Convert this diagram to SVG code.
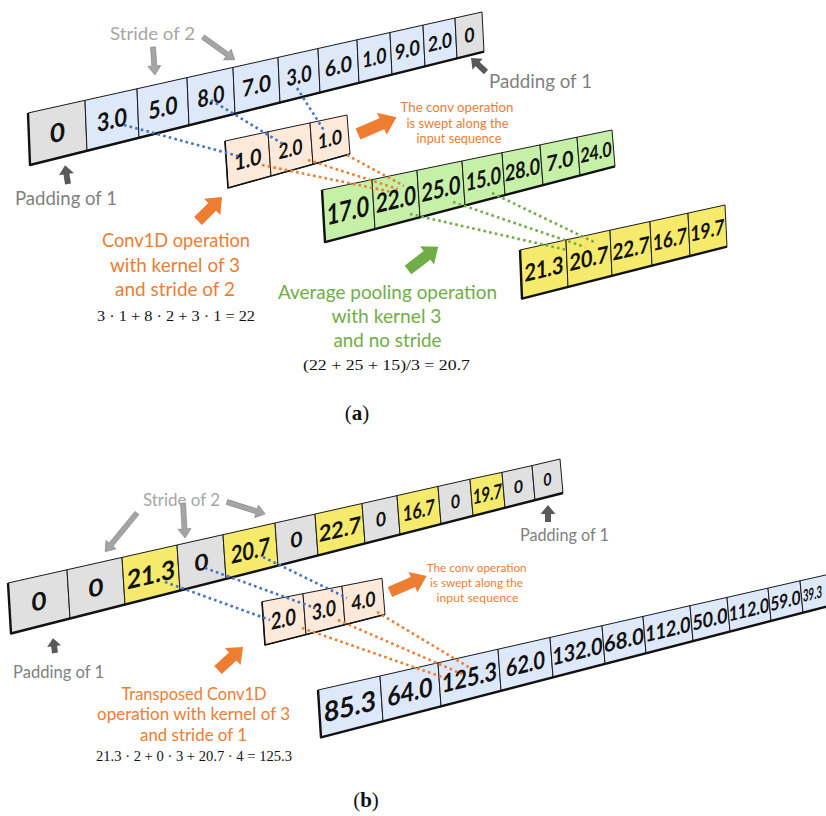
<svg xmlns="http://www.w3.org/2000/svg" xmlns:xlink="http://www.w3.org/1999/xlink" width="826" height="816" viewBox="0 0 826 816">
  <style>
    polygon.cell { stroke: #1a1a1a; stroke-width: 1; stroke-linejoin: round; }
    .gray { fill: #e0e0e0; }
    .blue { fill: #dde8f9; }
    .peach { fill: #fde9d9; }
    .green { fill: #c6efa8; }
    .yellow { fill: #f5ea6b; }
    .edge { fill: none; stroke: #111; stroke-width: 2.4; stroke-linejoin: round; }
    text.v { font-family: Lato, "Liberation Sans", sans-serif; font-weight: bold; fill: #111; text-anchor: middle; }
    text.lbl { font-family: Lato, "Liberation Sans", sans-serif; text-anchor: middle; }
    .stride { fill: #a6a6a6; }
    .pad { fill: #7f7f7f; }
    .orange { fill: #ed7d31; }
    .gtxt { fill: #70ad47; }
    text.math { font-family: "Liberation Serif", "DejaVu Serif", serif; fill: #111; text-anchor: middle; }
    .arr-stride { fill: #a5a5a5; stroke: #808080; stroke-width: 0.6; }
    .arr-pad { fill: #595959; }
    .arr-orange { fill: #ed7d31; }
    .arr-green { fill: #70ad47; }
    .dot { fill: none; stroke-width: 2.6; stroke-dasharray: 2.6 3.2; }
    .dot-blue { stroke: #4472c4; }
    .dot-orange { stroke: #ed7d31; }
    .dot-green { stroke: #70ad47; }
  </style>

  <!-- (a) input sequence with padding -->
  <g id="a-input">
    <g id="a-in-0"><polygon class="cell gray" points="28,113 85,100.3 87,151.2 30,165"/><text class="v" transform="translate(57.5,132.4) skewY(-13.3)" y="9.3" font-size="25.7" textLength="15" lengthAdjust="spacingAndGlyphs">0</text></g>
    <g id="a-in-1"><polygon class="cell blue" points="85,100.3 137,88.75 139,138.2 87,151.2"/><text class="v" transform="translate(112,119.6) skewY(-13.3)" y="9" font-size="25" textLength="30" lengthAdjust="spacingAndGlyphs">3.0</text></g>
    <g id="a-in-2"><polygon class="cell blue" points="137,88.75 187,77.6 189,125.7 139,138.2"/><text class="v" transform="translate(163,107.6) skewY(-13.3)" y="8.8" font-size="24.4" textLength="29" lengthAdjust="spacingAndGlyphs">5.0</text></g>
    <g id="a-in-3"><polygon class="cell blue" points="187,77.6 233,67.4 235,114.1 189,125.7"/><text class="v" transform="translate(211,96.2) skewY(-13.3)" y="8.5" font-size="23.7" textLength="27" lengthAdjust="spacingAndGlyphs">8.0</text></g>
    <g id="a-in-4"><polygon class="cell blue" points="233,67.4 278,57.4 280,102.9 235,114.1"/><text class="v" transform="translate(256.5,85.45) skewY(-13.3)" y="8.3" font-size="23" textLength="29" lengthAdjust="spacingAndGlyphs">7.0</text></g>
    <g id="a-in-5"><polygon class="cell blue" points="278,57.4 318,48.5 320,92.8 280,102.9"/><text class="v" transform="translate(299,75.4) skewY(-13.3)" y="8.1" font-size="22.5" textLength="25" lengthAdjust="spacingAndGlyphs">3.0</text></g>
    <g id="a-in-6"><polygon class="cell blue" points="318,48.5 357,39.8 359,83.1 320,92.8"/><text class="v" transform="translate(338.5,66.05) skewY(-13.3)" y="7.9" font-size="22" textLength="27" lengthAdjust="spacingAndGlyphs">6.0</text></g>
    <g id="a-in-7"><polygon class="cell blue" points="357,39.8 390,32.5 392,74.8 359,83.1"/><text class="v" transform="translate(374.5,57.55) skewY(-13.3)" y="7.7" font-size="21.4" textLength="24" lengthAdjust="spacingAndGlyphs">1.0</text></g>
    <g id="a-in-8"><polygon class="cell blue" points="390,32.5 423,25.1 425,66.5 392,74.8"/><text class="v" transform="translate(407.5,49.7) skewY(-13.3)" y="7.6" font-size="21" textLength="25" lengthAdjust="spacingAndGlyphs">9.0</text></g>
    <g id="a-in-9"><polygon class="cell blue" points="423,25.1 455,18 457,58.5 425,66.5"/><text class="v" transform="translate(440,42) skewY(-13.3)" y="7.4" font-size="20.5" textLength="24" lengthAdjust="spacingAndGlyphs">2.0</text></g>
    <g id="a-in-10"><polygon class="cell gray" points="455,18 482,12 484,51.7 457,58.5"/><text class="v" transform="translate(469.5,35.05) skewY(-13.3)" y="7.2" font-size="20" textLength="10" lengthAdjust="spacingAndGlyphs">0</text></g>
    <polyline class="edge" points="28,113 30,165 484,51.7"/>
  </g>

  <!-- (a) kernel -->
  <g id="a-kernel">
    <g id="a-k-0"><polygon class="cell peach" points="225,141 268,131.8 271,176 228,188"/><text class="v" transform="translate(248,159.2) skewY(-13.8)" y="8.2" font-size="22.8" textLength="27" lengthAdjust="spacingAndGlyphs">1.0</text></g>
    <g id="a-k-1"><polygon class="cell peach" points="268,131.8 310,122.9 313,164.3 271,176"/><text class="v" transform="translate(290.5,148.75) skewY(-13.8)" y="7.7" font-size="21.4" textLength="24" lengthAdjust="spacingAndGlyphs">2.0</text></g>
    <g id="a-k-2"><polygon class="cell peach" points="310,122.9 347,115 350,154 313,164.3"/><text class="v" transform="translate(330,139.05) skewY(-13.8)" y="7.2" font-size="20.1" textLength="24" lengthAdjust="spacingAndGlyphs">1.0</text></g>
    <polyline class="edge" points="225,141 228,188 350,154" style="stroke-width:1.6"/>
  </g>

  <!-- (a) conv output -->
  <g id="a-conv-out">
    <g id="a-c-0"><polygon class="cell green" points="322,190 372,179.65 375,229.1 325,242.1"/><text class="v" transform="translate(348,210.2) skewY(-13.2)" y="10.1" font-size="28" textLength="42" lengthAdjust="spacingAndGlyphs">17.0</text></g>
    <g id="a-c-1"><polygon class="cell green" points="372,179.65 417,170.3 420,217.3 375,229.1"/><text class="v" transform="translate(396,199.1) skewY(-13.2)" y="9.5" font-size="26.5" textLength="40" lengthAdjust="spacingAndGlyphs">22.0</text></g>
    <g id="a-c-2"><polygon class="cell green" points="417,170.3 462,161 465,205.5 420,217.3"/><text class="v" transform="translate(441,188.5) skewY(-13.2)" y="9.1" font-size="25.2" textLength="39" lengthAdjust="spacingAndGlyphs">25.0</text></g>
    <g id="a-c-3"><polygon class="cell green" points="462,161 502,152.7 505,195 465,205.5"/><text class="v" transform="translate(483.5,178.55) skewY(-13.2)" y="8.6" font-size="23.9" textLength="35" lengthAdjust="spacingAndGlyphs">15.0</text></g>
    <g id="a-c-4"><polygon class="cell green" points="502,152.7 540,144.9 543,185.1 505,195"/><text class="v" transform="translate(522.5,169.4) skewY(-13.2)" y="8.2" font-size="22.7" textLength="35" lengthAdjust="spacingAndGlyphs">28.0</text></g>
    <g id="a-c-5"><polygon class="cell green" points="540,144.9 577,137.2 580,175.4 543,185.1"/><text class="v" transform="translate(560,160.65) skewY(-13.2)" y="7.8" font-size="21.6" textLength="27" lengthAdjust="spacingAndGlyphs">7.0</text></g>
    <g id="a-c-6"><polygon class="cell green" points="577,137.2 612,130 615,166.3 580,175.4"/><text class="v" transform="translate(596,152.2) skewY(-13.2)" y="7.4" font-size="20.5" textLength="31" lengthAdjust="spacingAndGlyphs">24.0</text></g>
    <polyline class="edge" points="322,190 325,242.1 615,166.3"/>
  </g>

  <!-- (a) pooled output -->
  <g id="a-pool-out">
    <g id="a-p-0"><polygon class="cell yellow" points="520,250 566,239.9 568,286.9 522,298.6"/><text class="v" transform="translate(544,268.85) skewY(-13.3)" y="8.6" font-size="23.9" textLength="39" lengthAdjust="spacingAndGlyphs">21.3</text></g>
    <g id="a-p-1"><polygon class="cell yellow" points="566,239.9 610,230.2 612,275.8 568,286.9"/><text class="v" transform="translate(589,258.2) skewY(-13.3)" y="8.4" font-size="23.2" textLength="39" lengthAdjust="spacingAndGlyphs">20.7</text></g>
    <g id="a-p-2"><polygon class="cell yellow" points="610,230.2 650,221.5 652,265.6 612,275.8"/><text class="v" transform="translate(631,248.3) skewY(-13.3)" y="8.1" font-size="22.4" textLength="37" lengthAdjust="spacingAndGlyphs">22.7</text></g>
    <g id="a-p-3"><polygon class="cell yellow" points="650,221.5 688,213.1 690,256 652,265.6"/><text class="v" transform="translate(670,239.05) skewY(-13.3)" y="7.8" font-size="21.75" textLength="34" lengthAdjust="spacingAndGlyphs">16.7</text></g>
    <g id="a-p-4"><polygon class="cell yellow" points="688,213.1 725,205 727,246.6 690,256"/><text class="v" transform="translate(707.5,230.2) skewY(-13.3)" y="7.6" font-size="21.1" textLength="34" lengthAdjust="spacingAndGlyphs">19.7</text></g>
    <polyline class="edge" points="520,250 522,298.6 727,246.6"/>
  </g>

  <!-- (b) upsampled input with zero insertion and padding -->
  <g id="b-input">
    <g id="b-in-0"><polygon class="cell gray" points="8,583 67,569.75 70,618.5 11,633.5"/><text class="v" transform="translate(39,601.2) skewY(-13.5)" y="8.9" font-size="24.8" textLength="15" lengthAdjust="spacingAndGlyphs">0</text></g>
    <g id="b-in-1"><polygon class="cell gray" points="67,569.75 122,557.4 125,604.5 70,618.5"/><text class="v" transform="translate(96,587.5) skewY(-13.5)" y="8.6" font-size="24" textLength="15" lengthAdjust="spacingAndGlyphs">0</text></g>
    <g id="b-in-2"><polygon class="cell yellow" points="122,557.4 177,545 180,590.5 125,604.5"/><text class="v" transform="translate(151,574.35) skewY(-13.5)" y="9.4" font-size="26" textLength="48" lengthAdjust="spacingAndGlyphs">21.3</text></g>
    <g id="b-in-3"><polygon class="cell gray" points="177,545 223,534.7 226,578.8 180,590.5"/><text class="v" transform="translate(201.5,562.25) skewY(-13.5)" y="8.1" font-size="22.4" textLength="14" lengthAdjust="spacingAndGlyphs">0</text></g>
    <g id="b-in-4"><polygon class="cell yellow" points="223,534.7 275,523 278,565.6 226,578.8"/><text class="v" transform="translate(250.5,550.5) skewY(-13.5)" y="8.7" font-size="24.3" textLength="39" lengthAdjust="spacingAndGlyphs">20.7</text></g>
    <g id="b-in-5"><polygon class="cell gray" points="275,523 315,514.05 318,555.4 278,565.6"/><text class="v" transform="translate(296.5,539.5) skewY(-13.5)" y="7.6" font-size="21" textLength="12" lengthAdjust="spacingAndGlyphs">0</text></g>
    <g id="b-in-6"><polygon class="cell yellow" points="315,514.05 362,503.5 365,543.4 318,555.4"/><text class="v" transform="translate(340,529.1) skewY(-13.5)" y="8.2" font-size="22.7" textLength="42" lengthAdjust="spacingAndGlyphs">22.7</text></g>
    <g id="b-in-7"><polygon class="cell gray" points="362,503.5 397,495.6 400,534.5 365,543.4"/><text class="v" transform="translate(381,519.25) skewY(-13.5)" y="7.1" font-size="19.7" textLength="10" lengthAdjust="spacingAndGlyphs">0</text></g>
    <g id="b-in-8"><polygon class="cell yellow" points="397,495.6 438,486.4 441,524.1 400,534.5"/><text class="v" transform="translate(419,510.15) skewY(-13.5)" y="7.7" font-size="21.4" textLength="32" lengthAdjust="spacingAndGlyphs">16.7</text></g>
    <g id="b-in-9"><polygon class="cell gray" points="438,486.4 470,479.2 473,515.9 441,524.1"/><text class="v" transform="translate(455.5,501.4) skewY(-13.5)" y="6.7" font-size="18.6" textLength="9" lengthAdjust="spacingAndGlyphs">0</text></g>
    <g id="b-in-10"><polygon class="cell yellow" points="470,479.2 502,472.35 505,507.8 473,515.9"/><text class="v" transform="translate(487.5,493.8) skewY(-13.5)" y="7.3" font-size="20.2" textLength="29" lengthAdjust="spacingAndGlyphs">19.7</text></g>
    <g id="b-in-11"><polygon class="cell gray" points="502,472.35 532,465.6 535,500.15 505,507.8"/><text class="v" transform="translate(518.5,486.5) skewY(-13.5)" y="6.3" font-size="17.5" textLength="9" lengthAdjust="spacingAndGlyphs">0</text></g>
    <g id="b-in-12"><polygon class="cell gray" points="532,465.6 560,459 563,493 535,500.15"/><text class="v" transform="translate(547.5,479.4) skewY(-13.5)" y="6.2" font-size="17.2" textLength="8" lengthAdjust="spacingAndGlyphs">0</text></g>
    <polyline class="edge" points="8,583 11,633.5 563,493"/>
  </g>

  <!-- (b) kernel -->
  <g id="b-kernel">
    <g id="b-k-0"><polygon class="cell peach" points="262,601.7 303,593.7 306,634.6 265,645"/><text class="v" transform="translate(283.5,618.75) skewY(-12.7)" y="8.4" font-size="23.2" textLength="25" lengthAdjust="spacingAndGlyphs">2.0</text></g>
    <g id="b-k-1"><polygon class="cell peach" points="303,593.7 342,586.1 345,624.7 306,634.6"/><text class="v" transform="translate(324,609.8) skewY(-12.7)" y="7.9" font-size="21.9" textLength="24" lengthAdjust="spacingAndGlyphs">3.0</text></g>
    <g id="b-k-2"><polygon class="cell peach" points="342,586.1 382,578.3 385,614.5 345,624.7"/><text class="v" transform="translate(363.5,600.9) skewY(-12.7)" y="7.4" font-size="20.6" textLength="24" lengthAdjust="spacingAndGlyphs">4.0</text></g>
    <polyline class="edge" points="262,601.7 265,645 385,614.5" style="stroke-width:1.6"/>
  </g>

  <!-- (b) transposed conv output -->
  <g id="b-output">
    <g id="b-o-0"><polygon class="cell blue" points="318,690 380,676 383,721.3 321,737.3"/><text class="v" transform="translate(350,706.1) skewY(-13.6)" y="10" font-size="27.8" textLength="52" lengthAdjust="spacingAndGlyphs">85.3</text></g>
    <g id="b-o-1"><polygon class="cell blue" points="380,676 438,662.8 441,706.3 383,721.3"/><text class="v" transform="translate(410,691.6) skewY(-13.6)" y="9.6" font-size="26.6" textLength="45" lengthAdjust="spacingAndGlyphs">64.0</text></g>
    <g id="b-o-2"><polygon class="cell blue" points="438,662.8 498,649.2 501,690.7 441,706.3"/><text class="v" transform="translate(469.5,677.25) skewY(-13.6)" y="9.2" font-size="25.5" textLength="55" lengthAdjust="spacingAndGlyphs">125.3</text></g>
    <g id="b-o-3"><polygon class="cell blue" points="498,649.2 550,637.45 553,677.3 501,690.7"/><text class="v" transform="translate(525.5,663.7) skewY(-13.6)" y="8.8" font-size="24.4" textLength="39" lengthAdjust="spacingAndGlyphs">62.0</text></g>
    <g id="b-o-4"><polygon class="cell blue" points="550,637.45 602,625.7 605,663.8 553,677.3"/><text class="v" transform="translate(577.5,651.1) skewY(-13.6)" y="8.4" font-size="23.4" textLength="50" lengthAdjust="spacingAndGlyphs">132.0</text></g>
    <g id="b-o-5"><polygon class="cell blue" points="602,625.7 643,616.4 646,653.2 605,663.8"/><text class="v" transform="translate(624,639.8) skewY(-13.6)" y="8.1" font-size="22.5" textLength="40" lengthAdjust="spacingAndGlyphs">68.0</text></g>
    <g id="b-o-6"><polygon class="cell blue" points="643,616.4 690,605.7 693,641.1 646,653.2"/><text class="v" transform="translate(668,629.1) skewY(-13.6)" y="7.8" font-size="21.7" textLength="45" lengthAdjust="spacingAndGlyphs">112.0</text></g>
    <g id="b-o-7"><polygon class="cell blue" points="690,605.7 727,597.4 730,631.5 693,641.1"/><text class="v" transform="translate(710,618.9) skewY(-13.6)" y="7.5" font-size="20.85" textLength="35" lengthAdjust="spacingAndGlyphs">50.0</text></g>
    <g id="b-o-8"><polygon class="cell blue" points="727,597.4 768,588.1 771,620.9 730,631.5"/><text class="v" transform="translate(749,609.5) skewY(-13.6)" y="7.2" font-size="20" textLength="40" lengthAdjust="spacingAndGlyphs">112.0</text></g>
    <g id="b-o-9"><polygon class="cell blue" points="768,588.1 800,580.8 803,612.7 771,620.9"/><text class="v" transform="translate(785.5,600.6) skewY(-13.6)" y="7" font-size="19.4" textLength="30" lengthAdjust="spacingAndGlyphs">59.0</text></g>
    <g id="b-o-10"><polygon class="cell blue" points="800,580.8 835,572.9 838,603.6 803,612.7"/><text class="v" transform="translate(812.5,593.6) skewY(-13.6) scale(0.56,1)" y="6.1" font-size="17">39.3</text></g>
    <polyline class="edge" points="318,690 321,737.3 838,603.6"/>
  </g>

  <!-- dotted connectors: receptive fields -->
  <g id="connectors">
    <line class="dot dot-blue" x1="124" y1="125" x2="238" y2="156"/>
    <line class="dot dot-blue" x1="211" y1="100" x2="283" y2="144"/>
    <line class="dot dot-blue" x1="297" y1="88" x2="325" y2="132"/>
    <line class="dot dot-orange" x1="262" y1="165" x2="392" y2="192"/>
    <line class="dot dot-orange" x1="308" y1="160" x2="398" y2="189"/>
    <line class="dot dot-orange" x1="347" y1="155" x2="404" y2="186"/>
    <line class="dot dot-green" x1="410" y1="214" x2="567" y2="250"/>
    <line class="dot dot-green" x1="453" y1="202" x2="585" y2="247"/>
    <line class="dot dot-green" x1="492" y1="193" x2="596" y2="243"/>
    <line class="dot dot-blue" x1="165" y1="582" x2="270" y2="620"/>
    <line class="dot dot-blue" x1="205" y1="568" x2="315" y2="608"/>
    <line class="dot dot-blue" x1="263" y1="557" x2="347" y2="598"/>
    <line class="dot dot-orange" x1="302" y1="628" x2="445" y2="678"/>
    <line class="dot dot-orange" x1="338" y1="620" x2="462" y2="674"/>
    <line class="dot dot-orange" x1="377" y1="612" x2="470" y2="668"/>
  </g>

  <!-- block arrows -->
  <g id="arrows">
    <path class="arr-stride" d="M0,-2.5 L19,-2.5 L19,-6.5 L28,0 L19,6.5 L19,2.5 L0,2.5Z" transform="translate(153,47) rotate(86)"/>
    <path class="arr-stride" d="M0,-2.5 L30,-2.5 L30,-6.5 L39,0 L30,6.5 L30,2.5 L0,2.5Z" transform="translate(203,37) rotate(35.7)"/>
    <path class="arr-pad" d="M0,-3 L11.5,-3 L11.5,-7.5 L20.5,0 L11.5,7.5 L11.5,3 L0,3Z" transform="translate(486,72) rotate(-137)"/>
    <path class="arr-pad" d="M0,-3 L10,-3 L10,-7.5 L19,0 L10,7.5 L10,3 L0,3Z" transform="translate(68,184) rotate(-99)"/>
    <path class="arr-orange" d="M0,-6 L26,-6 L26,-12 L42,0 L26,12 L26,6 L0,6Z" transform="translate(358,134) rotate(-23.5)"/>
    <path class="arr-orange" d="M0,-5.5 L20,-5.5 L20,-11.5 L34,0 L20,11.5 L20,5.5 L0,5.5Z" transform="translate(198,221) rotate(-45)"/>
    <path class="arr-green" d="M0,-5.5 L24,-5.5 L24,-11.5 L38,0 L24,11.5 L24,5.5 L0,5.5Z" transform="translate(408,270) rotate(-37.5)"/>
    <path class="arr-stride" d="M0,-2.5 L41,-2.5 L41,-6.5 L50,0 L41,6.5 L41,2.5 L0,2.5Z" transform="translate(137,513) rotate(129.4)"/>
    <path class="arr-stride" d="M0,-2.5 L26,-2.5 L26,-6.5 L35,0 L26,6.5 L26,2.5 L0,2.5Z" transform="translate(183,503) rotate(86.7)"/>
    <path class="arr-stride" d="M0,-2.5 L31,-2.5 L31,-6.5 L40,0 L31,6.5 L31,2.5 L0,2.5Z" transform="translate(227,502) rotate(17.5)"/>
    <path class="arr-pad" d="M0,-3 L8,-3 L8,-7.5 L17,0 L8,7.5 L8,3 L0,3Z" transform="translate(548,522) rotate(-90)"/>
    <path class="arr-pad" d="M0,-3 L7,-3 L7,-7 L15,0 L7,7 L7,3 L0,3Z" transform="translate(55,653) rotate(-97.6)"/>
    <path class="arr-orange" d="M0,-5.5 L20,-5.5 L20,-11.5 L34,0 L20,11.5 L20,5.5 L0,5.5Z" transform="translate(218,670) rotate(-42.6)"/>
    <path class="arr-orange" d="M0,-5.5 L25,-5.5 L25,-11 L40,0 L25,11 L25,5.5 L0,5.5Z" transform="translate(390,592) rotate(-23.4)"/>
  </g>

  <!-- labels (a) -->
  <g id="labels-a">
    <text class="lbl stride" x="152.5" y="40" font-size="18" textLength="85" lengthAdjust="spacingAndGlyphs">Stride of 2</text>
    <text class="lbl pad" x="540.5" y="88" font-size="18.5" textLength="103" lengthAdjust="spacingAndGlyphs">Padding of 1</text>
    <text class="lbl pad" x="66" y="205" font-size="18.5" textLength="102" lengthAdjust="spacingAndGlyphs">Padding of 1</text>
    <text class="lbl orange" x="457" y="112" font-size="12.5" textLength="113" lengthAdjust="spacingAndGlyphs">The conv operation</text>
    <text class="lbl orange" x="457.5" y="127.5" font-size="12.5" textLength="102" lengthAdjust="spacingAndGlyphs">is swept along the</text>
    <text class="lbl orange" x="459" y="143" font-size="12.5" textLength="85" lengthAdjust="spacingAndGlyphs">input sequence</text>
    <text class="lbl orange" x="176" y="247" font-size="19" textLength="148" lengthAdjust="spacingAndGlyphs">Conv1D operation</text>
    <text class="lbl orange" x="175" y="272" font-size="19" textLength="130" lengthAdjust="spacingAndGlyphs">with kernel of 3</text>
    <text class="lbl orange" x="175" y="296" font-size="19" textLength="120" lengthAdjust="spacingAndGlyphs">and stride of 2</text>
    <text class="math" x="176" y="321" font-size="14.5" textLength="158" lengthAdjust="spacingAndGlyphs">3 · 1 + 8 · 2 + 3 · 1 = 22</text>
    <text class="lbl gtxt" x="387.5" y="299" font-size="19" textLength="219" lengthAdjust="spacingAndGlyphs">Average pooling operation</text>
    <text class="lbl gtxt" x="386.5" y="323" font-size="19" textLength="110" lengthAdjust="spacingAndGlyphs">with kernel 3</text>
    <text class="lbl gtxt" x="387.5" y="347" font-size="19" textLength="108" lengthAdjust="spacingAndGlyphs">and no stride</text>
    <text class="math" x="386.5" y="370" font-size="15" textLength="167" lengthAdjust="spacingAndGlyphs">(22 + 25 + 15)/3 = 20.7</text>
    <text class="math" x="357" y="420" font-size="21">(<tspan font-weight="bold">a</tspan>)</text>
  </g>

  <!-- labels (b) -->
  <g id="labels-b">
    <text class="lbl stride" x="181.5" y="506" font-size="16.5" textLength="77" lengthAdjust="spacingAndGlyphs">Stride of 2</text>
    <text class="lbl pad" x="564.5" y="541" font-size="16.5" textLength="89" lengthAdjust="spacingAndGlyphs">Padding of 1</text>
    <text class="lbl pad" x="58.5" y="678" font-size="16.5" textLength="91" lengthAdjust="spacingAndGlyphs">Padding of 1</text>
    <text class="lbl orange" x="476.7" y="572" font-size="11.5" textLength="100" lengthAdjust="spacingAndGlyphs">The conv operation</text>
    <text class="lbl orange" x="476.5" y="587" font-size="11.5" textLength="93" lengthAdjust="spacingAndGlyphs">is swept along the</text>
    <text class="lbl orange" x="477.5" y="602" font-size="11.5" textLength="82" lengthAdjust="spacingAndGlyphs">input sequence</text>
    <text class="lbl orange" x="194" y="700" font-size="17.5" textLength="145" lengthAdjust="spacingAndGlyphs">Transposed Conv1D</text>
    <text class="lbl orange" x="193.5" y="720" font-size="17.5" textLength="193" lengthAdjust="spacingAndGlyphs">operation with kernel of 3</text>
    <text class="lbl orange" x="193.5" y="741" font-size="17.5" textLength="107" lengthAdjust="spacingAndGlyphs">and stride of 1</text>
    <text class="math" x="194" y="761" font-size="14" textLength="196" lengthAdjust="spacingAndGlyphs">21.3 · 2 + 0 · 3 + 20.7 · 4 = 125.3</text>
    <text class="math" x="366" y="807" font-size="21">(<tspan font-weight="bold">b</tspan>)</text>
  </g>
</svg>
